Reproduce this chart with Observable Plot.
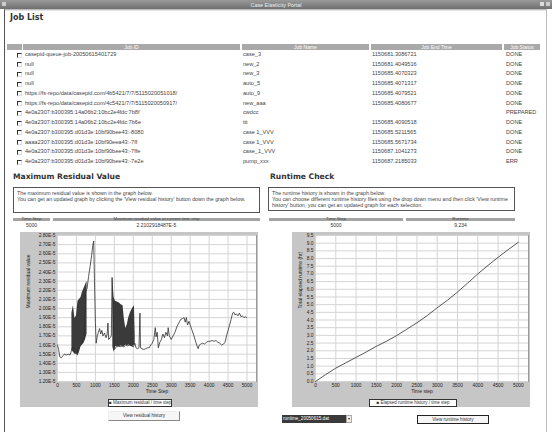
<!DOCTYPE html>
<html><head><meta charset="utf-8">
<script src="https://cdn.jsdelivr.net/npm/d3@7"></script>
<script src="https://cdn.jsdelivr.net/npm/@observablehq/plot@0.6"></script>
<style>
body{margin:0;width:552px;height:432px;overflow:hidden;background:#fff;font-family:"Liberation Sans",Arial,sans-serif;position:relative;color:#333}
.a{position:absolute;white-space:nowrap}
.hd{background:#a9a9a9;color:#fff;font-size:5px;line-height:6px;text-align:center;height:6px}
.cell{font-size:5.6px;line-height:7px;color:#444}
.cb{width:3px;height:3px;border-top:1px solid #333;border-left:1px solid #333;border-right:1px solid #ddd;border-bottom:1px solid #ddd;background:#fff}
.h2{font-family:"DejaVu Sans",sans-serif;font-weight:bold;font-size:7.6px;color:#333}
.desc{border:1px solid #555;background:#fff;font-size:5.3px;line-height:6px;padding:2px 3px;box-sizing:border-box;color:#444;white-space:normal}
.ih{background:#a4a4a4;height:3.5px}
.iht{font-size:4.4px;line-height:4px;color:#444;text-align:center}
.iv{font-size:5px;line-height:5px;color:#333;text-align:center}
.leg{background:#fff;border:1px solid #333;font-size:4.5px;line-height:6px;text-align:center;box-sizing:border-box}
.btn{font-size:4.6px;text-align:center;box-sizing:border-box;background:#f6f6f6}
</style></head><body>
<script>
// ---------------- data ----------------
const pageTitle = "Case Elasticity Portal";
const tableHeaders = ["Job ID", "Job Name", "Job End Time", "Job Status"];
const jobIds = [
  "casepid-queue-job-20050615401729",
  "null", "null", "null",
  "https://fs-repo/data/casepid.com/4b5421/7/7/5115020051018/",
  "https://fs-repo/data/casepid.com/4c5421/7/7/5115020050917/",
  "4e0a2307:b300395:14a06b2:10bc2e4fdc:7b8f",
  "4e0a2307:b300395:14a06b2:10bc2e4fdc:7b6e",
  "4e0a2307:b300395:d01d3e:10bf90bee43:-8080",
  "aaaa2307:b300395:d01d3e:10bf90eea43:-7ff",
  "4e0a2307:b300395:d01d3e:10bf90bee43:-7ffe",
  "4e0a2307:b300395:d01d3e:10bf90bee43:-7e2e"
];
const jobNames = ["case_3","new_2","new_3","auto_5","auto_9","new_aaa","cwdcc","ttt","case 1_VVV","case 1_VVV","case_1_VVV","pump_xxx"];
const jobEndTimes = ["1150681.3086721","1150681.4049516","1150685.4070323","1150685.4071317","1150685.4079521","1150685.4080677","","1150685.4090518","1150685.5211565","1150685.5671734","1150687.1041273","1150687.2185033"];
const jobStatus = ["DONE","DONE","DONE","DONE","DONE","DONE","PREPARED","DONE","DONE","DONE","DONE","ERR"];

const residualNow = {step: "5000", value: "2.2102918487E-5"};
const runtimeNow = {step: "5000", value: "9.234"};

const stepTicks = [0,500,1000,1500,2000,2500,3000,3500,4000,4500,5000];
const residualTicks = [1.2,1.3,1.4,1.5,1.6,1.7,1.8,1.9,2.0,2.1,2.2,2.3,2.4,2.5,2.6,2.7,2.8]; // x 1e-5
const runtimeTicks = [0,0.5,1,1.5,2,2.5,3,3.5,4,4.5,5,5.5,6,6.5,7,7.5,8,8.5,9,9.5];

// maximum residual (x 1e-5) per time step
const resSteps = [0,30,60,100,140,180,230,280,330,370,400,450,500,550,600,650,700,740,780,820,860,900,930,955,975,1000,1020,1050,1080,1110,1140,1170,1200,1240,1280,1310,1330,1350,1390,1420,1440,1470,1500,1550,1600,1650,1700,1750,1800,1850,1900,1950,2000,2040,2070,2110,2150,2175,2190,2230,2280,2330,2380,2420,2460,2500,2540,2580,2600,2630,2660,2700,2740,2780,2820,2860,2900,2920,2950,3000,3050,3100,3150,3200,3250,3300,3340,3370,3400,3430,3470,3500,3550,3600,3650,3690,3710,3740,3780,3830,3880,3930,3980,4030,4080,4130,4180,4230,4280,4330,4380,4420,4460,4500,4540,4580,4620,4650,4680,4720,4760,4800,4840,4880,4920,4960,4990];
const resValues = [1.60,1.55,1.47,1.46,1.48,1.50,1.49,1.50,1.49,1.54,1.58,1.54,1.52,1.55,1.60,1.62,1.66,2.18,2.22,2.35,2.46,2.58,2.69,2.74,2.30,1.85,1.62,1.70,1.74,1.78,1.72,1.76,1.70,1.73,1.68,1.72,1.84,1.66,1.68,1.70,2.34,1.95,1.55,1.58,1.59,1.58,1.59,1.58,1.60,1.59,1.60,1.59,1.58,1.62,1.57,1.56,1.57,1.95,1.57,1.56,1.55,1.56,1.57,1.57,1.60,1.62,1.66,1.79,1.69,1.74,1.57,1.63,1.66,1.72,1.68,1.74,1.70,1.79,1.70,1.66,1.70,1.74,1.80,1.84,1.88,1.89,1.90,1.85,1.90,1.82,1.86,1.82,1.76,1.70,1.63,1.58,1.56,1.60,1.61,1.62,1.61,1.63,1.64,1.64,1.65,1.64,1.65,1.63,1.62,1.60,1.61,1.63,1.70,1.76,1.82,1.88,1.95,1.96,1.93,1.94,1.92,1.95,1.91,1.92,1.90,1.91,1.90];
// envelope of the densely oscillating stretches
const bandSteps = [380,420,460,500,540,580,620,660,700,740,780, null, 1460,1490,1530,1580,1630,1680,1730,1760,1800,1840,1880,1930,1980,2030,2050];
const bandLow   = [1.54,1.52,1.50,1.50,1.48,1.52,1.58,1.60,1.62,1.66,1.72, null, 1.58,1.52,1.58,1.58,1.58,1.59,1.58,1.58,1.60,1.59,1.60,1.59,1.58,1.60,1.60];
const bandHigh  = [1.95,2.03,1.89,1.92,2.08,2.10,2.12,2.18,2.22,2.26,2.30, null, 2.34,2.12,2.08,2.07,2.06,2.04,2.03,1.90,1.78,1.82,1.90,1.96,2.00,2.03,1.70];

// elapsed runtime
const rtSteps  = [0,250,500,750,1000,1250,1500,1750,2000,2250,2500,2750,3000,3250,3500,3750,4000,4250,4500,4750,5000];
const rtValues = [0,0.45,0.87,1.22,1.57,1.92,2.29,2.62,2.99,3.40,3.82,4.28,4.80,5.28,5.82,6.40,7.00,7.55,8.08,8.58,9.06];

// ---------------- page ----------------
function el(cls, x, y, w, h, html, extra) {
  const d = document.createElement("div");
  d.className = "a " + (cls || "");
  d.style.left = x + "px"; d.style.top = y + "px";
  if (w != null) d.style.width = w + "px";
  if (h != null) d.style.height = h + "px";
  if (html != null) d.innerHTML = html;
  if (extra) Object.assign(d.style, extra);
  document.body.appendChild(d);
  return d;
}
// title bar
el("", 0, 0, 552, 9, "", {background: "linear-gradient(#9a9a9a,#6f6f6f)"});
el("", 0, 1.5, 552, 6, pageTitle, {fontSize: "5.4px", lineHeight: "6px", color: "#eee", textAlign: "center"});
el("", 2, 2, 4, 4, "", {background: "#ccc"});
el("", 540, 2, 4, 4, "", {background: "#ddd"});
el("", 546, 2, 4, 4, "", {background: "#ccc"});
// page frame
el("", 4, 9, 543, 423, "", {borderLeft: "1px solid #555", borderTop: "1px solid #bbb", borderRight: "1px solid #bbb", boxSizing: "border-box"});
el("", 5, 10, 541, 1, "", {background: "#e4e4e4"});

el("h2", 10, 13, null, null, "Job List", {fontSize: "8px"});

// job table
const cols = [[7,15],[23,217],[242,127],[371,131],[504,36]];
el("hd", cols[0][0], 43.5, cols[0][1], null, "");
tableHeaders.forEach((t, i) => el("hd", cols[i+1][0], 43.5, cols[i+1][1], null, t));
jobIds.forEach((id, i) => {
  const y = 51 + i * 9.73;
  el("cb", 17, y + 1.5, null, null, "");
  el("cell", 25, y, null, null, id);
  el("cell", 243, y, null, null, jobNames[i]);
  el("cell", 372, y, null, null, jobEndTimes[i]);
  el("cell", 506, y, null, null, jobStatus[i]);
});

// section headings + descriptions
el("h2", 13, 172, null, null, "Maximum Residual Value");
el("h2", 270, 172, null, null, "Runtime Check");
el("desc", 13, 187, 247, 26, "The maximum residual value is shown in the graph below.<br>You can get an updated graph by clicking the 'View residual history' button down the graph below.");
el("desc", 268, 187, 247, 24, "The runtime history is shown in the graph below.<br>You can choose different runtime history files using the drop down menu and then click 'View runtime history' button, you can get an updated graph for each selection.");

// info tables
el("ih", 13, 217.5, 37, null, ""); el("ih", 53, 217.5, 207, null, "");
el("iht", 13, 216.5, 37, null, "Time Step"); el("iht", 53, 216.5, 207, null, "Maximum residual value at current time step");
el("iv", 13, 222.5, 37, null, residualNow.step); el("iv", 53, 222.5, 207, null, residualNow.value);
el("ih", 269, 217.5, 134, null, ""); el("ih", 406, 217.5, 109, null, "");
el("iht", 269, 216.5, 134, null, "Time Step"); el("iht", 406, 216.5, 109, null, "Runtime");
el("iv", 269, 222.5, 134, null, runtimeNow.step); el("iv", 406, 222.5, 109, null, runtimeNow.value);

// ---------------- charts ----------------
const font = "Liberation Sans, Arial, sans-serif";
const res = resSteps.map((x, i) => ({x, y: resValues[i]}));
const band = bandSteps.map((x, i) => ({x, lo: bandLow[i], hi: bandHigh[i]}));
const rt = rtSteps.map((x, i) => ({x, y: rtValues[i]}));
const plainInt = d => String(d);

const resPlot = Plot.plot({
  width: 238, height: 175,
  marginLeft: 37, marginRight: 2, marginTop: 3, marginBottom: 26,
  style: {background: "#c6c6c6", fontSize: "4.8px", fontFamily: font, color: "#222"},
  x: {domain: [0, 5250]},
  y: {domain: [1.2, 2.8]},
  marks: [
    Plot.frame({fill: "white", stroke: "#9a9a9a"}),
    Plot.gridX(stepTicks, {stroke: "#d4d4d4", strokeOpacity: 1}),
    Plot.gridY(residualTicks, {stroke: "#d4d4d4", strokeOpacity: 1}),
    Plot.areaY(band, {x: "x", y1: "lo", y2: "hi", fill: "#3a3a3a"}),
    Plot.line(res, {x: "x", y: "y", stroke: "#2e2e2e", strokeWidth: 0.8}),
    Plot.axisX(stepTicks, {tickSize: 0, tickPadding: 2.5, label: null, fontSize: 4.8, tickFormat: plainInt}),
    Plot.axisY(residualTicks, {tickSize: 0, tickPadding: 2, label: null, fontSize: 4.8, tickFormat: d => d.toFixed(2) + "E-5"}),
    Plot.text(["Time Step"], {text: d => d, frameAnchor: "bottom", dy: 11, fontSize: 5}),
    Plot.text(["Maximum residual value"], {text: d => d, frameAnchor: "left", rotate: -90, dx: -29, fontSize: 5})
  ]
});
resPlot.style.position = "absolute"; resPlot.style.left = "20px"; resPlot.style.top = "232px";
document.body.appendChild(resPlot);

const rtPlot = Plot.plot({
  width: 238, height: 175,
  marginLeft: 23, marginRight: 2, marginTop: 3, marginBottom: 26,
  style: {background: "#c6c6c6", fontSize: "4.8px", fontFamily: font, color: "#222"},
  x: {domain: [0, 5250]},
  y: {domain: [0, 9.5]},
  marks: [
    Plot.frame({fill: "white", stroke: "#9a9a9a"}),
    Plot.gridX(stepTicks, {stroke: "#d4d4d4", strokeOpacity: 1}),
    Plot.gridY(runtimeTicks, {stroke: "#d4d4d4", strokeOpacity: 1}),
    Plot.line(rt, {x: "x", y: "y", stroke: "#444", strokeWidth: 0.9}),
    Plot.axisX(stepTicks, {tickSize: 0, tickPadding: 2.5, label: null, fontSize: 4.8, tickFormat: plainInt}),
    Plot.axisY(runtimeTicks, {tickSize: 0, tickPadding: 2, label: null, fontSize: 4.8, tickFormat: d => d.toFixed(1)}),
    Plot.text(["Time step"], {text: d => d, frameAnchor: "bottom", dy: 11, fontSize: 5}),
    Plot.text(["Total elapsed runtime (hr)"], {text: d => d, frameAnchor: "left", rotate: -90, dx: -15, fontSize: 5})
  ]
});
rtPlot.style.position = "absolute"; rtPlot.style.left = "292px"; rtPlot.style.top = "232px";
document.body.appendChild(rtPlot);

// legends and controls
el("leg", 108, 399, 64, 8, "&#9632; Maximum residual / time step");
el("leg", 369, 399, 88, 8, "&#9632; Elapsed runtime history / time step");
el("btn", 108, 411, 72, 10, "View residual history", {lineHeight: "8px", borderTop: "1px solid #eee", borderLeft: "1px solid #eee", borderRight: "1px solid #888", borderBottom: "1px solid #888"});
el("", 282, 415, 64, 8, "runtime_20050615.dat", {background: "#3a3a3a", color: "#fff", fontSize: "4.6px", lineHeight: "8px", paddingLeft: "1px", boxSizing: "border-box", overflow: "hidden"});
el("", 346, 415, 6, 8, "&#9662;", {background: "#eee", border: "1px solid #aaa", fontSize: "4px", lineHeight: "6px", textAlign: "center", boxSizing: "border-box"});
el("btn", 417, 414.5, 72, 9, "View runtime history", {lineHeight: "7px", border: "1px solid #222"});
</script>
</body></html>
